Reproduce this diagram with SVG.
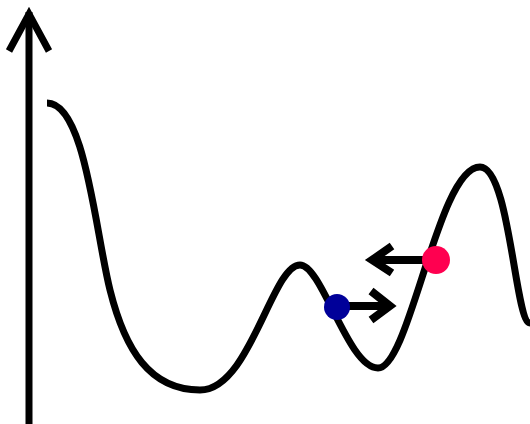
<svg xmlns="http://www.w3.org/2000/svg" width="530" height="424" viewBox="0 0 530 424">
<style>
.ln{fill:none;stroke:#000;stroke-width:7}
.ar{fill:none;stroke:#000;stroke-width:7;stroke-linejoin:miter}
.aw{fill:none;stroke:#000;stroke-width:8;stroke-linejoin:miter}
</style>
<rect width="530" height="424" fill="#fff"/>
<g id="axis">
<line class="ln" x1="29" y1="424" x2="29" y2="12"/>
<polyline class="ar" points="9,51 29,14 49,51"/>
</g>
<g id="curve">
<path class="ln" d="M47,103 C85,103 95,230 110,290 C125,350 150,390 200,390 C250,390 272,265 300,265"/>
<path class="ln" d="M300,265 C322,265 348,368 378,368"/>
<path class="ln" d="M378,368 C410,368 438,167 480,167"/>
<path class="ln" d="M480,167 C510,167 515,323 530,323"/>
</g>
<g id="connectors">
<g id="blue-arrow">
<line class="aw" x1="340" y1="306" x2="390" y2="306"/>
<polyline class="aw" points="371,291 390,306 371,320"/>
</g>
<g id="red-arrow">
<line class="aw" x1="432" y1="260" x2="372" y2="260"/>
<polyline class="aw" points="392,246 372,260 392,273"/>
</g>
</g>
<g id="blue-ball"><circle cx="337" cy="307" r="13" fill="#000099"/></g>
<g id="red-ball"><circle cx="436" cy="260" r="14" fill="#ff0050"/></g>
</svg>
